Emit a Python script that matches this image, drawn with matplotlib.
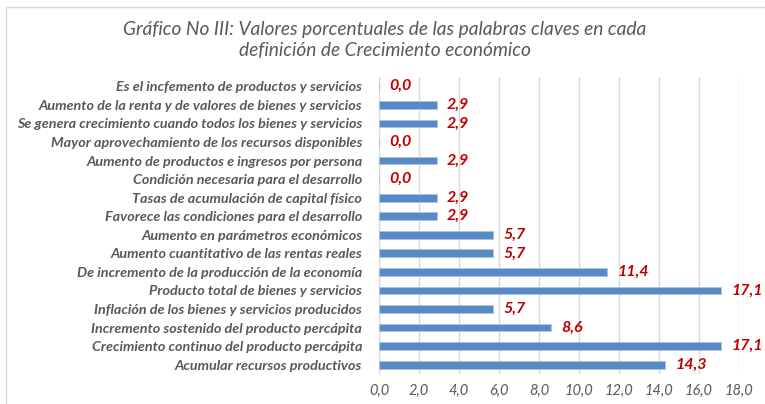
import matplotlib.pyplot as plt
import matplotlib.patches as mpatches
from matplotlib import font_manager

# Categories from bottom to top, as they appear on the chart
categorias = [
    "Acumular recursos productivos",
    "Crecimiento continuo del producto percápita",
    "Incremento sostenido del producto percápita",
    "Inflación de los bienes y servicios producidos",
    "Producto total de bienes y servicios",
    "De incremento de la producción de la economía",
    "Aumento cuantitativo de las rentas reales",
    "Aumento en parámetros económicos",
    "Favorece las condiciones para el desarrollo",
    "Tasas de acumulación de capital físico",
    "Condición necesaria para el desarrollo",
    "Aumento de productos e ingresos por persona",
    "Mayor aprovechamiento de los recursos disponibles",
    "Se genera crecimiento cuando todos los bienes y servicios",
    "Aumento de la renta y de valores de bienes y servicios",
    "Es el incfemento de productos y servicios",
]
valores = [14.3, 17.1, 8.6, 5.7, 17.1, 11.4, 5.7, 5.7, 2.9, 2.9, 0.0, 2.9, 0.0, 2.9, 2.9, 0.0]
ticks_x = [0, 2, 4, 6, 8, 10, 12, 14, 16, 18]

titulo = "Gráfico No III: Valores porcentuales de las palabras claves en cada\ndefinición de Crecimiento económico"

names = {f.name for f in font_manager.fontManager.ttflist}
fam = "Lato" if "Lato" in names else "DejaVu Sans"

gris = "#595959"
azul = "#5A8AC6"
rojo = "#C00000"

fig = plt.figure(figsize=(7.65, 4.04), dpi=100)
fig.patches.append(mpatches.Rectangle((6 / 765, -0.05), 1.1, 1 - 7 / 404 + 0.05,
                                      transform=fig.transFigure, fill=False,
                                      edgecolor="#D9D9D9", linewidth=1.0))

ax = fig.add_axes([379 / 765, 30 / 404, 360 / 765, 297 / 404])
y = list(range(len(categorias)))
ax.barh(y, valores, height=0.42, color=azul, edgecolor="#A9C3E3", linewidth=0.6, zorder=3)

for yi, v in zip(y, valores):
    ax.text(v + 0.5, yi, f"{v:.1f}".replace(".", ","), va="center", ha="left",
            color=rojo, fontsize=11.5, fontweight="bold", style="italic", family=fam)

ax.set_xlim(0, 18)
ax.set_ylim(-0.5, len(categorias) - 0.5)
ax.set_xticks(ticks_x)
ax.set_xticklabels([f"{t:.1f}".replace(".", ",") for t in ticks_x],
                   color=gris, fontsize=10.5, style="italic", family=fam)
ax.set_yticks(y)
ax.set_yticklabels(categorias, color=gris, fontsize=10.4, style="italic",
                   fontweight="bold", family=fam)
ax.tick_params(axis="both", length=0)
ax.tick_params(axis="x", pad=7)
ax.tick_params(axis="y", pad=12)
ax.grid(axis="x", color="#D9D9D9", linewidth=1.0, zorder=0)
for s in ["top", "right", "bottom"]:
    ax.spines[s].set_visible(False)
ax.spines["left"].set_color("#D9D9D9")

fig.text(385 / 765, 1 - 40 / 404, titulo, ha="center", va="center", color=gris,
         fontsize=13.8, style="italic", family=fam, linespacing=1.35)

fig.savefig("out.png", dpi=100)
